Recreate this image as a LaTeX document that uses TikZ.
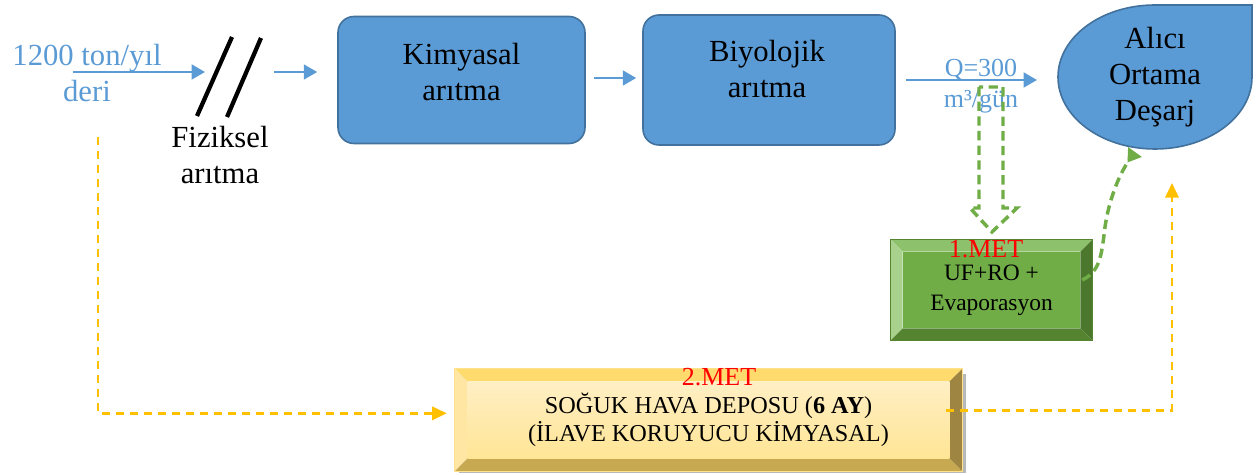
\documentclass[tikz,border=0pt]{standalone}
\usepackage{fontspec}
\setmainfont{Liberation Serif}
\usetikzlibrary{arrows.meta,calc,backgrounds}

\definecolor{flowblue}{HTML}{5B9BD5}
\definecolor{edgeblue}{HTML}{41719C}
\definecolor{leaf}{HTML}{70AD47}
\definecolor{leaflight}{HTML}{A9D18E}
\definecolor{leaftop}{HTML}{8DC16C}
\definecolor{leafdark}{HTML}{4B782C}
\definecolor{leafbottom}{HTML}{558431}
\definecolor{gold}{HTML}{FFC000}
\definecolor{creamtop}{HTML}{FFDB6E}
\definecolor{creamleft}{HTML}{FFE7A3}
\definecolor{olive}{HTML}{9E8541}
\definecolor{sand}{HTML}{C6A951}
\definecolor{creamA}{HTML}{FFEFC4}
\definecolor{creamB}{HTML}{FFF2D0}
\definecolor{creamC}{HTML}{FFE595}
\definecolor{metred}{HTML}{FF0000}

% bevelled frame around a named node: node, inset, top, left, right, bottom, centre
\newcommand\bevelframe[7]{%
  \coordinate (bvA) at (#1.north west);
  \coordinate (bvB) at (#1.north east);
  \coordinate (bvC) at (#1.south east);
  \coordinate (bvD) at (#1.south west);
  \coordinate (bva) at ($(bvA)+(#2,#2)$);
  \coordinate (bvb) at ($(bvB)+(-#2,#2)$);
  \coordinate (bvc) at ($(bvC)+(-#2,-#2)$);
  \coordinate (bvd) at ($(bvD)+(#2,-#2)$);
  \path[#3] (bvA) -- (bvB) -- (bvb) -- (bva) -- cycle;
  \path[#4] (bvA) -- (bva) -- (bvd) -- (bvD) -- cycle;
  \path[#5] (bvB) -- (bvC) -- (bvc) -- (bvb) -- cycle;
  \path[#6] (bvD) -- (bvd) -- (bvc) -- (bvC) -- cycle;
  \path[#7] (bva) rectangle (bvc);
}

\begin{document}
\begin{tikzpicture}[x=0.75pt,y=-0.75pt,
  flow/.style={draw=flowblue,line width=2pt,-{Triangle[length=10pt,width=11pt]}},
  procbox/.style={draw=edgeblue,line width=1.2pt,fill=flowblue,rounded corners=12pt,inner sep=0pt},
  bigtext/.style={font=\fontsize{23}{27}\selectfont,align=center,inner sep=0pt},
  flowtext/.style={bigtext,text=flowblue},
  qtext/.style={font=\fontsize{19.5}{23.25}\selectfont,align=center,text=flowblue,inner sep=0pt},
  mettitle/.style={font=\fontsize{19.5}{23}\selectfont,text=metred,inner sep=0pt},
  mettext/.style={align=center,inner sep=0pt},
  gdash/.style={draw=leaf,line width=2.6pt,dash pattern=on 7pt off 4pt},
  ydash/.style={draw=gold,line width=1.8pt,dash pattern=on 6pt off 4.5pt},
  ytip/.style={-{Triangle[length=11pt,width=10pt]}},
  cutmark/.style={line width=3.2pt,black}]

\useasboundingbox (0,0) rectangle (1258,473);

% raw material input
\node[flowtext] (feed) at (87,73) {1200 ton/yıl\\deri};
\coordinate (feedStart) at (73,72);
\coordinate (feedEnd) at (205,72);
\draw[flow] (feedStart) -- (feedEnd);

% physical treatment (cut mark)
\coordinate (cutOneLow) at (197,116);
\coordinate (cutOneHigh) at (232,37);
\coordinate (cutTwoLow) at (227,117);
\coordinate (cutTwoHigh) at (261,38);
\draw[cutmark] (cutOneLow) -- (cutOneHigh);
\draw[cutmark] (cutTwoLow) -- (cutTwoHigh);
\node[bigtext] (fiz) at (220,155) {Fiziksel\\arıtma};

% chemical treatment
\node[procbox,minimum width=185.25pt,minimum height=95.25pt] (kim) at (461.5,80) {};
\node[bigtext] (kimtext) at (461.5,72) {Kimyasal\\arıtma};
\coordinate (preKim) at (274,72);
\draw[flow,shorten >=15pt] (preKim) -- (kim.west |- preKim);

% biological treatment
\node[procbox,minimum width=189pt,minimum height=97.5pt] (bio) at (769,80) {};
\node[bigtext] (biotext) at (767,69) {Biyolojik\\arıtma};
\draw[flow,shorten <=6pt,shorten >=4.5pt] ([yshift=1.5pt]kim.east) -- ([yshift=1.5pt]bio.west);

% receiving environment (teardrop)
\coordinate (tdTip) at (1252,5);
\draw[draw=edgeblue,line width=1.2pt,fill=flowblue] (tdTip) -- (1252,77)
  .. controls (1252,116.8) and (1208.6,149) .. (1155,149)
  .. controls (1101.4,149) and (1058,116.8) .. (1058,77)
  .. controls (1058,37.2) and (1101.4,5) .. (1155,5) -- cycle;
\node[bigtext] (alici) at (1155,77) {Alıcı\\Ortama\\Deşarj};

% discharge flow
\coordinate (qEnd) at (1037,80);
\draw[flow,shorten <=7.5pt] (bio.east) -- (qEnd);
\node[qtext] (qlbl) at (981,86) {Q=300\\m³/gün};

% method 1
\node[mettext,font=\fontsize{17.6}{22.5}\selectfont,minimum width=150.75pt,minimum height=75pt] (met1) at (991.5,290) {UF+RO +\\Evaporasyon};
\node[mettitle] (met1t) at (986,249) {1.MET};

% method 2
\node[mettext,font=\fontsize{18.2}{21}\selectfont,minimum width=380.25pt,minimum height=76.5pt] (met2) at (708.5,420) {SOĞUK HAVA DEPOSU (\textbf{6 AY})\\(İLAVE KORUYUCU KİMYASAL)};
\node[mettitle] (met2t) at (719,377) {2.MET};

\begin{scope}[on background layer]
  \fill[black!28] ($(met2.north west)+(4,5)$) rectangle ($(met2.south east)+(4,5)$);
  \bevelframe{met2}{13}{fill=creamtop}{fill=creamleft}{fill=olive}{fill=sand}{top color=creamA,middle color=creamB,bottom color=creamC}
  \draw[draw=creamtop!80!white,line width=0.6pt] (met2.north west) rectangle (met2.south east);
  \bevelframe{met1}{12}{fill=leaftop}{fill=leaflight}{fill=leafdark}{fill=leafbottom}{fill=leaf}
  \draw[draw=leafbottom,line width=0.5pt] (met1.north west) rectangle (met1.south east);
\end{scope}

% hollow dashed arrow from discharge to method 1
\coordinate (splitTop) at (991,87);
\draw[gdash,line join=miter] ($(splitTop)+(-12,0)$) -- ++(0,121) -- ++(-9,0) -- ++(22,24)
  -- ++(25,-24) -- ++(-14,0) -- ++(0,-121) -- cycle;

% method 1 to receiving environment
\draw[gdash,-{Triangle[reversed,length=9.75pt,width=12pt]}] ($(met1.east)+(-10,-10)$)
  .. controls (1098,272) and (1101,260) .. (1104,235)
  .. controls (1108,197) and (1122,170) .. (1135,152);

% method 2 route
\coordinate (leftDrop) at (98,137);
\draw[ydash,ytip] (leftDrop) |- ([xshift=-6pt,yshift=5pt]met2.west);
\coordinate (rightRise) at (1172,183);
\draw[ydash,ytip] ([xshift=-12pt,yshift=7pt]met2.east) -| (rightRise);

\end{tikzpicture}
\end{document}
